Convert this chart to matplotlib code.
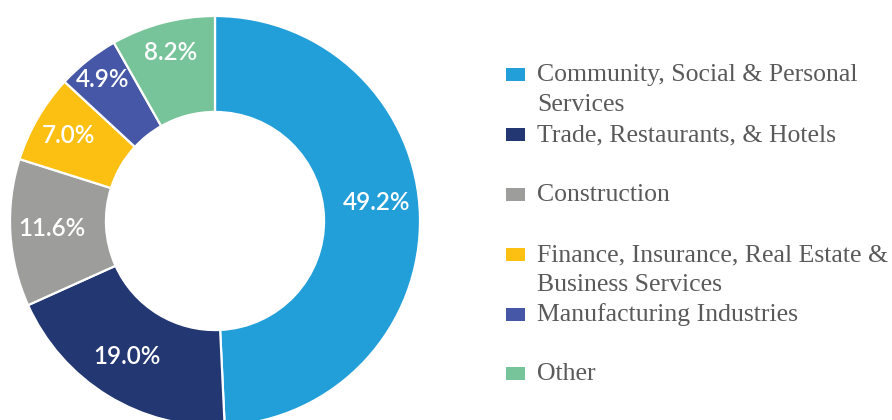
import numpy as np
import matplotlib
matplotlib.use("Agg")
import matplotlib.pyplot as plt
from matplotlib.patches import Rectangle

# Employment share by sector (%)
categories = [
    "Community, Social & Personal\nServices",
    "Trade, Restaurants, & Hotels",
    "Construction",
    "Finance, Insurance, Real Estate &\nBusiness Services",
    "Manufacturing Industries",
    "Other",
]
shares = [49.2, 19.0, 11.6, 7.0, 4.9, 8.2]
colors = ["#229ED9", "#233873", "#9D9D9C", "#FCC012", "#4557A6", "#78C49A"]

W, H = 892, 420
fig = plt.figure(figsize=(W / 100, H / 100), dpi=100)

# Donut: centre (215, 221) px from top-left, outer radius 205 px
cx, cy, r = 215, 221, 205
ax = fig.add_axes([(cx - r) / W, (H - cy - r) / H, 2 * r / W, 2 * r / H])

wedges, texts = ax.pie(
    shares,
    colors=colors,
    startangle=90,
    counterclock=False,
    radius=1.0,
    labels=[f"{v:.1f}%" for v in shares],
    labeldistance=0.79,
    wedgeprops=dict(width=0.468, edgecolor="white", linewidth=1.6),
    textprops=dict(color="white", fontsize=17.5, fontweight="semibold",
                   family=["Lato", "DejaVu Sans"]),
)
ax.set_xlim(-1, 1)
ax.set_ylim(-1, 1)
ax.set_aspect("equal")
ax.axis("off")

# label placement: radial distance and small angular nudge per wedge
label_r = [0.795, 0.79, 0.795, 0.825, 0.88, 0.85]
label_nudge = [5.0, -1.5, -0.8, 0.0, 0.0, 0.0]
for w, t, lr, dn in zip(wedges, texts, label_r, label_nudge):
    ang = np.deg2rad((w.theta1 + w.theta2) / 2 + dn)
    t.set_position((lr * np.cos(ang), lr * np.sin(ang)))
    t.set_ha("center")
    t.set_va("center")

# Legend, one text per line so the swatch sits on the first line
row_y = [74, 134, 194, 254, 314, 373]
sw_x, sw_w, sw_h = 506, 19, 13
text_x, line_gap, base_off = 537, 29.5, 7.5
for lab, col, y in zip(categories, colors, row_y):
    fig.patches.append(Rectangle((sw_x / W, (H - y - sw_h / 2) / H), sw_w / W, sw_h / H,
                                 transform=fig.transFigure, facecolor=col, edgecolor="none"))
    for i, line in enumerate(lab.split("\n")):
        fig.text(text_x / W, (H - y - base_off - i * line_gap) / H, line,
                 ha="left", va="baseline", fontsize=18.5, color="#5A5A5A",
                 family="Liberation Serif")

fig.savefig("out.png", dpi=100)
